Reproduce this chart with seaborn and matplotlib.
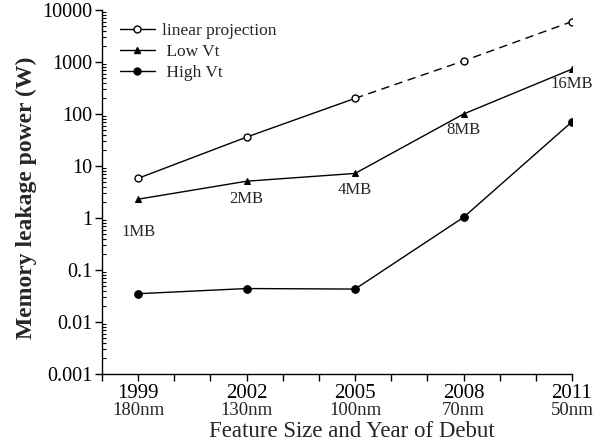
import matplotlib
matplotlib.use("Agg")
import matplotlib.pyplot as plt
import seaborn as sns
import pandas as pd
import numpy as np
from matplotlib.lines import Line2D
from matplotlib.ticker import FixedLocator, LogLocator, NullFormatter, FixedFormatter
import matplotlib.transforms as mtransforms

years = [1999, 2002, 2005, 2008, 2011]
nodes = ["180nm", "130nm", "100nm", "70nm", "50nm"]
linear_projection = [5.8, 36, 200, 1050, 6000]
low_vt = [2.3, 5.1, 7.2, 100, 730]
high_vt = [0.035, 0.044, 0.043, 1.03, 71]
cache_sizes = ["1MB", "2MB", "4MB", "8MB", "16MB"]

sns.set_theme(style="white")
plt.rcParams['font.family'] = ['Liberation Serif', 'DejaVu Serif']
plt.rcParams['mathtext.fontset'] = 'stix'

fig = plt.figure(figsize=(6.03, 4.41), dpi=100)
ax = fig.add_axes([102/603, 1-374/441, (572-102)/603, (374-10)/441])

lw = 1.0
# linear projection: solid up to 2005, dashed afterwards
df_lin = pd.DataFrame({"year": years, "val": linear_projection})
sns.lineplot(data=df_lin.iloc[:3], x="year", y="val", ax=ax, color="black", lw=lw)
sns.lineplot(data=df_lin.iloc[2:], x="year", y="val", ax=ax, color="black", lw=lw,
             linestyle=(0, (6, 4)))
ax.plot(years, linear_projection, ls="none", marker="o", ms=5, mfc="white",
        mec="black", mew=1.0, zorder=5)

df_low = pd.DataFrame({"year": years, "val": low_vt})
sns.lineplot(data=df_low, x="year", y="val", ax=ax, color="black", lw=lw,
             marker="^", markersize=5, markeredgecolor="black", markerfacecolor="black")

df_high = pd.DataFrame({"year": years, "val": high_vt})
sns.lineplot(data=df_high, x="year", y="val", ax=ax, color="black", lw=lw,
             marker="o", markersize=5.5, markeredgecolor="black", markerfacecolor="black")

ax.set_yscale("log")
ax.set_ylim(0.001, 10000)
ax.set_xlim(1998, 2011)

# spines
for s in ["top", "right"]:
    ax.spines[s].set_visible(False)
for s in ["left", "bottom"]:
    ax.spines[s].set_color("black")
    ax.spines[s].set_linewidth(1.0)

# y ticks
yt = [0.001, 0.01, 0.1, 1, 10, 100, 1000, 10000]
ylabels = ["0.001", "0.01", "0.1", "1", "10", "100", "1000", "10000"]
ax.yaxis.set_major_locator(FixedLocator(yt))
ax.yaxis.set_major_formatter(FixedFormatter(ylabels))
ax.yaxis.set_minor_locator(LogLocator(base=10, subs=np.arange(2, 10)))
ax.yaxis.set_minor_formatter(NullFormatter())
ax.tick_params(axis="y", which="major", direction="out", length=5, width=1,
               labelsize=14.5, colors="black", pad=2, left=True)
ax.tick_params(axis="y", which="minor", direction="in", length=3, width=0.8,
               colors="black", left=True)

# x ticks
ax.xaxis.set_major_locator(FixedLocator(years))
ax.set_xticklabels([str(y) for y in years])
ax.xaxis.set_minor_locator(FixedLocator(list(range(1998, 2012))))
ax.tick_params(axis="x", which="major", direction="out", length=5, width=1,
               labelsize=15, colors="black", pad=2.5, bottom=True)
ax.tick_params(axis="x", which="minor", direction="out", length=5, width=1,
               colors="black", bottom=True)

trans = mtransforms.blended_transform_factory(ax.transData, ax.transAxes)
for y, n in zip(years, nodes):
    ax.text(y, -0.078, n, transform=trans, ha="center", va="top", fontsize=13.5)

ax.set_xlabel("Feature Size and Year of Debut", fontsize=16.5, labelpad=13)
ax.xaxis.label.set_x(0.532)
ax.set_ylabel("Memory leakage power (W)", fontsize=17, fontweight="bold", labelpad=4)
ax.yaxis.label.set_y(0.484)

# cache size annotations
offsets = [(0, -18), (0, -7), (0, -6), (0, -6), (0, -5)]
for y, v, lab, off in zip(years, low_vt, cache_sizes, offsets):
    ax.annotate(lab, (y, v), xytext=off, textcoords="offset points",
                ha="center", va="top", fontsize=12)

ax.grid(False)

handles = [
    Line2D([], [], color="black", lw=lw, marker="o", ms=5, mfc="white", mec="black"),
    Line2D([], [], color="black", lw=lw, marker="^", ms=5, mfc="black", mec="black"),
    Line2D([], [], color="black", lw=lw, marker="o", ms=5, mfc="black", mec="black"),
]
leg = ax.legend(handles, ["linear projection", " Low Vt", " High Vt"],
                loc="upper left", bbox_to_anchor=(0.038, 0.964), frameon=False,
                fontsize=12.5, handlelength=2.0, handletextpad=0.45,
                labelspacing=0.27, borderaxespad=0, borderpad=0)

fig.savefig("out.png", dpi=100, facecolor="white")
